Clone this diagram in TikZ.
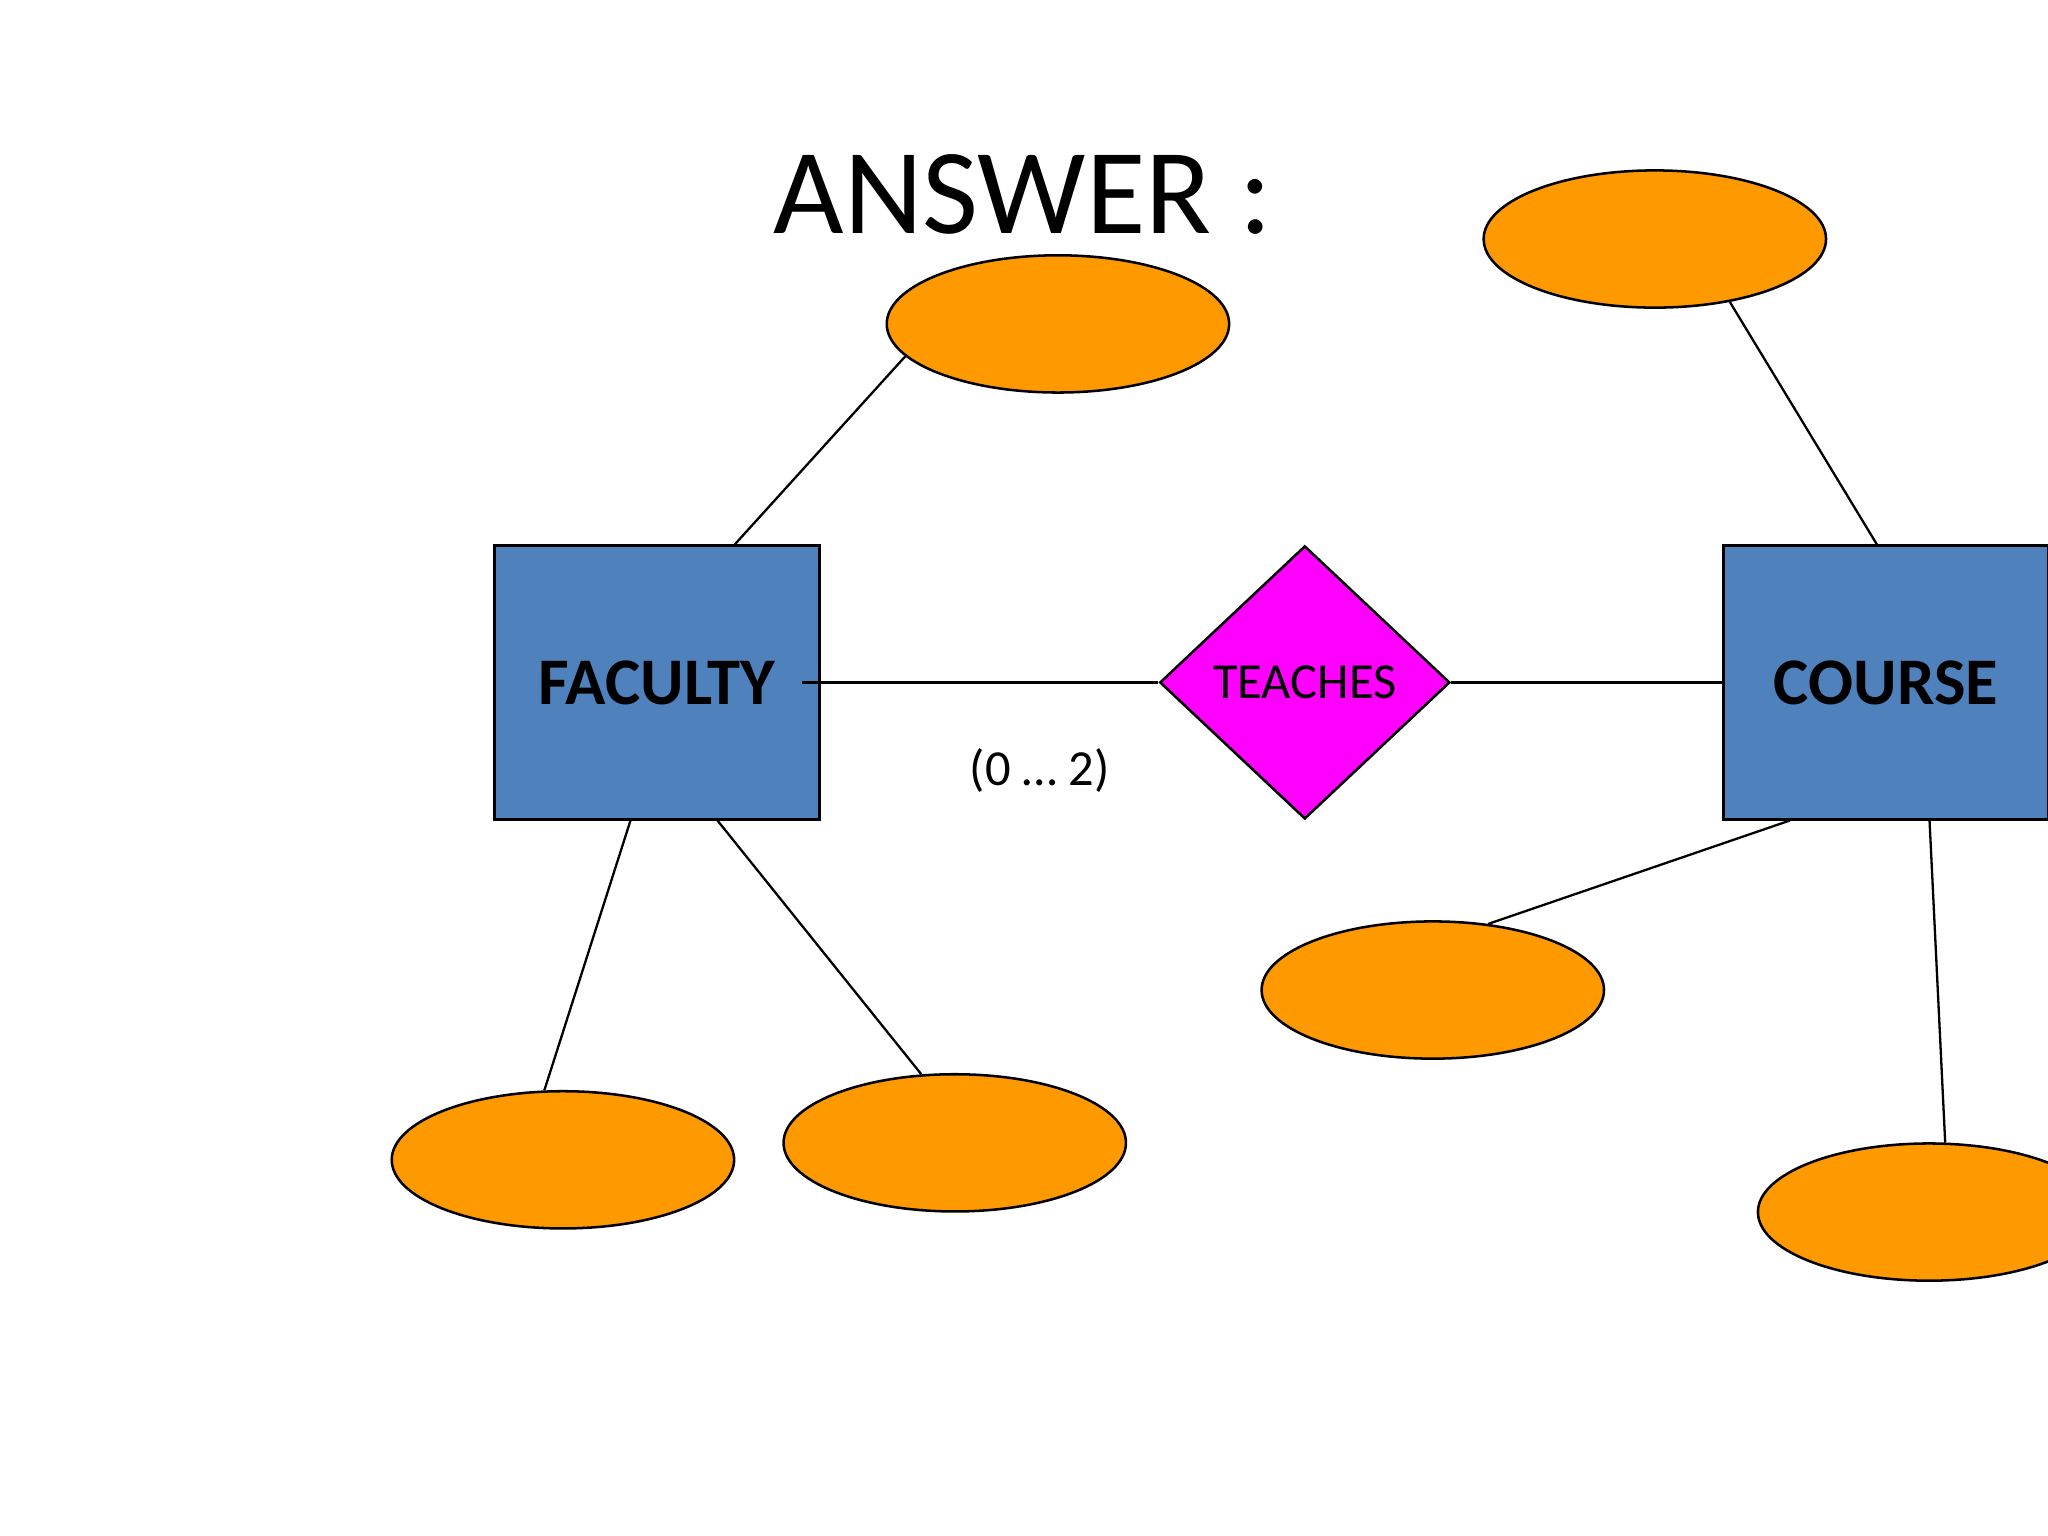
\documentclass[tikz,border=0pt]{standalone}
\usepackage{fontspec}
\setmainfont{Carlito}
\usetikzlibrary{shapes.geometric,calc}
\definecolor{entblue}{HTML}{4F81BD}
\definecolor{attrorange}{HTML}{FF9900}
\definecolor{relmag}{HTML}{FF00FF}
\begin{document}
\begin{tikzpicture}[x=0.01cm,y=-0.01cm,
  entity/.style={draw=black, line width=0.65pt, fill=entblue, minimum width=2.48cm, minimum height=2.09cm, inner sep=0pt, font=\fontsize{14.5}{17}\selectfont\bfseries},
  attr/.style={ellipse, draw=black, line width=0.55pt, fill=attrorange, minimum width=2.62cm, minimum height=1.05cm, inner sep=0pt},
  rel/.style={diamond, draw=black, line width=0.55pt, fill=relmag, minimum width=2.22cm, minimum height=2.09cm, inner sep=0pt, font=\fontsize{11}{13}\selectfont},
  conn/.style={draw=black, line width=0.5pt}]
\fill[white] (0,0) rectangle (1568,1176);
\useasboundingbox (0,0) rectangle (1568,1176);

\node[font=\fontsize{26.5}{30}\selectfont] (title) at (783,149) {ANSWER :};

\node[entity] (fac) at (503,522.5) {FACULTY};
\node[entity] (course) at (1444,522.5) {COURSE};
\node[rel] (teach) at (999,522.5) {TEACHES};

\node[attr] (e1) at (810,248) {};
\node[attr] (e2) at (1267,183) {};
\node[attr] (e3) at (431,888) {};
\node[attr] (e4) at (731,875) {};
\node[attr] (e5) at (1097,758) {};
\node[attr] (e6) at (1477,928) {};

\node[font=\fontsize{11}{13}\selectfont] (card) at (796,590) {(0 … 2)};

\coordinate (facin) at (614,522.5);
\draw[conn] (facin) -- (teach.west);
\draw[conn] (teach.east) -- (course.west);

\draw[conn] ($(fac.north west)!0.738!(fac.north east)$) -- (e1.192);
\draw[conn] ($(fac.south west)!0.419!(fac.south east)$) -- (e3.105);
\draw[conn] ($(fac.south west)!0.685!(fac.south east)$) -- (e4.116);
\draw[conn] ($(course.north west)!0.472!(course.north east)$) -- (e2.320);
\draw[conn] ($(course.south west)!0.206!(course.south east)$) -- (e5.50);
\draw[conn] ($(course.south west)!0.633!(course.south east)$) -- (e6.77);
\end{tikzpicture}
\end{document}
